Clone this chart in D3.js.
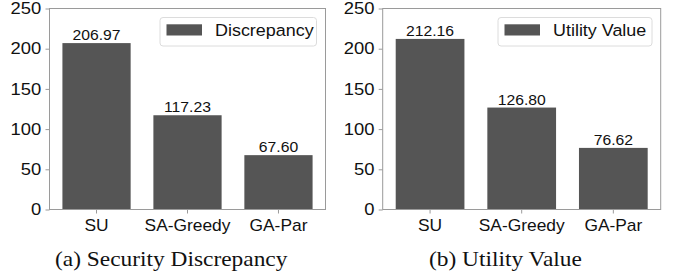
<!DOCTYPE html>
<html>
<head>
<meta charset="utf-8">
<script src="https://cdn.jsdelivr.net/npm/d3@7"></script>
<style>
  html, body { margin: 0; padding: 0; background: #fff; }
  svg { display: block; }
</style>
</head>
<body>
<svg id="chart" width="681" height="275"></svg>
<script>
// ---- data ----
const categories = ["SU", "SA-Greedy", "GA-Par"];
const discrepancyValues = [206.97, 117.23, 67.60];
const utilityValues = [212.16, 126.80, 76.62];
const yTickValues = [0, 50, 100, 150, 200, 250];
const legendLabels = ["Discrepancy", "Utility Value"];
const captions = ["(a) Security Discrepancy", "(b) Utility Value"];

// ---- layout ----
const W = 681, H = 275;
const sx = 1.1; // horizontal stretch of reference text
const barColor = "#555555";
const spineColor = "#9a9a9a";
const textColor = "#111111";
const sans = "'Liberation Sans', Arial, Helvetica, sans-serif";
const serif = "'Liberation Serif', 'Times New Roman', serif";

const panels = [
  { x0: 49.5, x1: 325.5, values: discrepancyValues, legend: legendLabels[0], caption: captions[0],
    lg: { x: 160, y: 17.5, w: 156.5, h: 28.5 }, capX: 55 },
  { x0: 382.7, x1: 660.7, values: utilityValues, legend: legendLabels[1], caption: captions[1],
    lg: { x: 498, y: 17.5, w: 154, h: 28.5 }, capX: 429 }
];

const svg = d3.select("#chart");
svg.append("rect").attr("width", W).attr("height", H).attr("fill", "#fff");

const y = d3.scaleLinear().domain([0, 250]).range([209.5, 8.5]);

function stretchedText(g, x, yy, str, size, anchor, family, fill, scaleX) {
  return g.append("text")
    .attr("transform", `translate(${x},${yy}) scale(${scaleX || sx},1)`)
    .attr("text-anchor", anchor)
    .style("font-family", family)
    .style("font-size", size + "px")
    .attr("fill", fill || textColor)
    .text(str);
}

panels.forEach(p => {
  const g = svg.append("g");
  const x = d3.scaleBand().domain(categories).range([p.x0, p.x1])
    .paddingInner(0.25).paddingOuter(0.142);

  // bars
  g.selectAll("rect.bar").data(p.values).enter().append("rect")
    .attr("class", "bar")
    .attr("x", (d, i) => x(categories[i]))
    .attr("width", x.bandwidth())
    .attr("y", d => y(d))
    .attr("height", d => y(0) - y(d))
    .attr("fill", barColor);

  // value labels
  p.values.forEach((d, i) => {
    stretchedText(g, x(categories[i]) + x.bandwidth() / 2, y(d) - 2.8, d.toFixed(2), 14.3, "middle", sans);
  });

  // frame
  g.append("rect")
    .attr("x", p.x0).attr("y", y(250))
    .attr("width", p.x1 - p.x0).attr("height", y(0) - y(250))
    .attr("fill", "none").attr("stroke", spineColor).attr("stroke-width", 1);

  // y axis
  const ya = g.append("g").attr("transform", `translate(${p.x0},0)`)
    .call(d3.axisLeft(y).tickValues(yTickValues).tickSize(4).tickPadding(3.2));
  ya.select(".domain").remove();
  ya.selectAll(".tick line").attr("stroke", spineColor);
  ya.selectAll(".tick text")
    .attr("fill", textColor)
    .style("font-family", sans).style("font-size", "16px")
    .attr("transform", "scale(1.15,1)");

  // x axis
  const xa = g.append("g").attr("transform", `translate(0,${y(0)})`)
    .call(d3.axisBottom(x).tickSize(4).tickPadding(6));
  xa.select(".domain").remove();
  xa.selectAll(".tick line").attr("stroke", spineColor);
  xa.selectAll(".tick text")
    .attr("fill", textColor)
    .style("font-family", sans).style("font-size", "15.8px")
    .attr("transform", `scale(${sx},1)`);

  // legend
  const lg = g.append("g");
  lg.append("rect")
    .attr("x", p.lg.x).attr("y", p.lg.y).attr("width", p.lg.w).attr("height", p.lg.h)
    .attr("rx", 3).attr("fill", "#fff").attr("stroke", "#dcdcdc").attr("stroke-width", 1);
  lg.append("rect")
    .attr("x", p.lg.x + 6.5).attr("y", p.lg.y + 6.8).attr("width", 35.5).attr("height", 11.2)
    .attr("fill", barColor);
  stretchedText(lg, p.lg.x + 55, p.lg.y + 18.3, p.legend, 16.3, "start", sans);

  // caption
  stretchedText(svg, p.capX, 266, p.caption, 20, "start", serif, "#111", 1.17);
});
</script>
</body>
</html>
